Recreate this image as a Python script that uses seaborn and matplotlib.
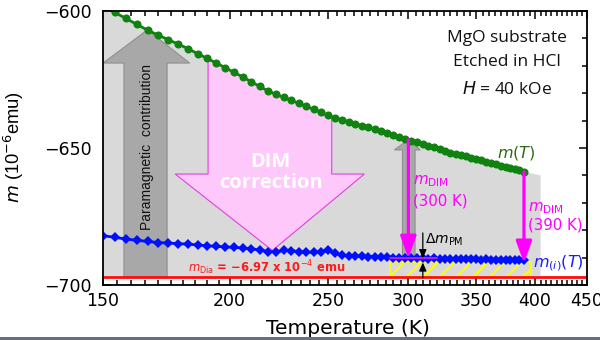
import numpy as np
import pandas as pd
import matplotlib
matplotlib.use("Agg")
import matplotlib.pyplot as plt
import seaborn as sns
from matplotlib.patches import Polygon, Rectangle
from matplotlib.ticker import FixedLocator, NullFormatter, FixedFormatter

# ---------------- data ----------------
temps = [150, 154, 158, 162, 166, 170, 174, 178, 182, 186, 190, 194, 198, 202, 206,
         210, 214, 218, 222, 226, 230, 234, 238, 242, 246, 250, 254, 258, 262, 266,
         270, 274, 278, 282, 286, 290, 294, 298, 302, 306, 310, 314, 318, 322, 326,
         330, 334, 338, 342, 346, 350, 354, 358, 362, 366, 370, 374, 378, 382, 386, 390]

m_total = [-598.3, -600.5, -602.7, -604.9, -607.0, -608.8, -610.5, -612.1, -613.8, -615.6,
           -617.3, -619.0, -620.7, -622.4, -624.1, -625.8, -627.5, -629.1, -630.4, -631.5,
           -632.6, -633.7, -634.8, -635.9, -637.0, -638.1, -639.0, -639.7, -640.4, -641.1,
           -641.8, -642.5, -643.2, -643.9, -644.6, -645.3, -646.0, -646.7, -647.3, -647.9,
           -648.6, -649.2, -649.8, -650.5, -651.1, -651.7, -652.2, -652.6, -653.1, -653.6,
           -654.0, -654.5, -655.0, -655.4, -655.9, -656.4, -656.8, -657.3, -657.8, -658.2, -658.7]

m_intrinsic = [-682.0, -682.6, -683.2, -683.7, -684.1, -684.5, -684.7, -684.9, -685.1, -685.4,
               -685.7, -685.9, -686.1, -686.3, -686.5, -686.8, -687.2, -687.8, -687.9, -687.4,
               -687.5, -687.8, -688.0, -688.1, -687.8, -687.4, -688.4, -689.1, -689.3, -689.4,
               -689.5, -689.6, -689.7, -689.8, -689.8, -690.0, -690.1, -690.2, -690.2, -690.3,
               -690.2, -690.4, -690.3, -690.4, -690.5, -690.4, -690.5, -690.6, -690.5, -690.6,
               -690.6, -690.7, -690.6, -690.7, -690.7, -690.8, -690.7, -690.8, -690.8, -690.9, -690.9]

m_dia = -697.0
x_major = [150, 200, 250, 300, 350, 400, 450]
y_major = [-700, -650, -600]
info_lines = ["MgO substrate", "Etched in HCl", "$H$ = 40 kOe"]

# ---------------- style ----------------
sns.set_theme(style="ticks")
plt.rcParams["font.family"] = ["DejaVu Sans"]
plt.rcParams["mathtext.fontset"] = "dejavusans"
plt.rcParams["hatch.linewidth"] = 1.4

fig = plt.figure(figsize=(6, 3.4), dpi=100)
fig.patch.set_facecolor("white")
ax = fig.add_axes([103 / 600, 1 - 285 / 340, 484 / 600, 274 / 340])
ax.set_facecolor("white")
ax.set_xscale("log")
ax.set_xlim(150, 450)
ax.set_ylim(-700, -600)

# grey area below m(T)
area_T = [150] + temps + [405, 405]
area_m = [m_dia] + m_total + [-660.0, m_dia]
bg = Polygon(list(zip(area_T, area_m)), closed=True, facecolor="#d9d9d9",
             edgecolor="none", zorder=1)
ax.add_patch(bg)
clip_poly = Polygon(list(zip(area_T, area_m)), closed=True, transform=ax.transData)

# paramagnetic contribution arrow (grey, up)
pm_arrow = Polygon([(157.3, m_dia), (157.3, -619.0), (150.0, -619.0), (165.9, -606.9),
                    (182.6, -619.0), (173.5, -619.0), (173.5, m_dia)], closed=True,
                   facecolor="#a8a8a8", edgecolor="#909090", lw=0.8, zorder=2)
ax.add_patch(pm_arrow)
ax.text(165.6, -649.5, "Paramagnetic  contribution", rotation=90, ha="center",
        va="center", fontsize=10, family="Liberation Sans", color="#111111", zorder=6)

# DIM correction arrow (pink, down)
dim_arrow = Polygon([(190.4, -590), (190.4, -659.5), (176.7, -659.5), (220.3, -687.4),
                     (271.5, -659.5), (252.1, -659.5), (252.1, -590)], closed=True,
                    facecolor="#ffc8fa", edgecolor="#e040e0", lw=0.8, zorder=2)
ax.add_patch(dim_arrow)
dim_arrow.set_clip_path(clip_poly)
ax.text(219.5, -659.0, "DIM\ncorrection", ha="center", va="center", fontsize=14.5,
        family="Open Sans", fontweight="bold", color="white", linespacing=1.1, zorder=6)

# small grey arrow at 300 K
g300 = Polygon([(296.0, -690.2), (296.0, -650.7), (290.6, -650.7), (300.0, -647.0),
                (308.2, -650.7), (304.6, -650.7), (304.6, -690.2)], closed=True,
               facecolor="#a8a8a8", edgecolor="#909090", lw=0.8, zorder=3)
ax.add_patch(g300)

# yellow hatched box
ybox = Polygon([(288, -691.6), (396, -691.6), (396, m_dia), (288, m_dia)], closed=True,
               facecolor="none", edgecolor="#ffff00", hatch="//", lw=1.2, zorder=3)
ax.add_patch(ybox)

# curves
df = pd.DataFrame({"T": temps, "total": m_total, "intr": m_intrinsic})
sns.lineplot(data=df, x="T", y="total", ax=ax, color="#0f820f", marker="o",
             markersize=5.8, markeredgewidth=0, linewidth=2.0, zorder=5)
sns.lineplot(data=df, x="T", y="intr", ax=ax, color="#0010ff", marker="D",
             markersize=4.7, markeredgewidth=0, linewidth=2.0, zorder=5)

ax.axhline(m_dia, color="#ff0d0d", lw=2.0, zorder=4)

# magenta level line and arrows
ax.plot([288, 320], [-690.2, -690.2], color="#d21ee6", lw=1.3, zorder=6)
arrow_kw = dict(arrowstyle="-|>,head_length=0.55,head_width=0.2", color="#ff00ff",
                lw=2.3, mutation_scale=24, shrinkA=0, shrinkB=0)
ax.annotate("", xy=(300, -690.2), xytext=(300, -647.0), arrowprops=arrow_kw, zorder=7)
ax.annotate("", xy=(390, -692.0), xytext=(390, -658.7), arrowprops=arrow_kw, zorder=7)

# delta m_PM arrows
bk = dict(arrowstyle="-|>,head_length=0.5,head_width=0.22", color="black", lw=0.9,
          mutation_scale=10, shrinkA=0, shrinkB=0)
ax.annotate("", xy=(310, -690.2), xytext=(310, -681.0), arrowprops=bk, zorder=7)
ax.annotate("", xy=(310, -691.8), xytext=(310, -697.4), arrowprops=bk, zorder=7)

# labels inside
ax.text(303, -662.2, r"$m_{\rm DIM}$", color="#ff00ff", fontsize=10.8, ha="left", va="center", zorder=8)
ax.text(303, -669.2, "(300 K)", color="#ff00ff", fontsize=10.8, ha="left", va="center", zorder=8)
ax.text(393.4, -671.8, r"$m_{\rm DIM}$", color="#ff00ff", fontsize=10.8, ha="left", va="center", zorder=8)
ax.text(393.4, -678.2, "(390 K)", color="#ff00ff", fontsize=10.8, ha="left", va="center", zorder=8)
ax.text(383.4, -651.8, r"$m(T)$", color="#2e6a14", fontsize=11.5, ha="center", va="center", zorder=8)
ax.text(397.7, -692.0, r"$m_{(i)}(T)$", color="#1a1aff", fontsize=11.5, ha="left", va="center", zorder=8)
ax.text(311.7, -683.6, r"$\Delta m_{\rm PM}$", color="black", fontsize=10, ha="left", va="center", zorder=8)
ax.text(182, -693.8, r"$m_{\rm Dia}$ = −6.97 x 10$^{-4}$ emu", color="#ff1a1a", fontsize=8.3,
        ha="left", va="center", fontweight="bold", zorder=8)

for txt, y in zip(info_lines, [-609.9, -618.6, -628.8]):
    ax.text(374.9, y, txt, ha="center", va="center", fontsize=12.5, family="Open Sans",
            color="#111111", zorder=8)

# axes styling
ax.xaxis.set_major_locator(FixedLocator(x_major))
ax.xaxis.set_major_formatter(FixedFormatter([str(v) for v in x_major]))
ax.xaxis.set_minor_locator(FixedLocator([v for v in range(155, 450, 5) if v % 50 != 0]))
ax.xaxis.set_minor_formatter(NullFormatter())
ax.yaxis.set_major_locator(FixedLocator(y_major))
ax.yaxis.set_minor_locator(FixedLocator([v for v in range(-700, -599, 10) if v % 50 != 0]))
ax.tick_params(which="both", direction="in", top=True, right=True, color="black", width=1.1)
ax.tick_params(which="major", length=6, labelsize=12.5, labelcolor="black")
ax.tick_params(which="minor", length=3.5)
ax.tick_params(axis="x", which="major", pad=5)
ax.tick_params(axis="y", which="major", pad=8)
for sp in ax.spines.values():
    sp.set_color("black")
    sp.set_linewidth(1.3)
    sp.set_zorder(9)

ax.set_xlabel("Temperature (K)", fontsize=14.5, color="black")
ax.xaxis.set_label_coords(0.506, -0.124)
ax.set_ylabel(r"$m$ (10$^{-6}$emu)", fontsize=13.2, family="Liberation Sans", color="black")
ax.yaxis.set_label_coords(-0.160, 0.504)

# bottom frame line
fig.add_artist(Rectangle((0, 0), 1, 3 / 340, transform=fig.transFigure,
                         facecolor="#627080", edgecolor="none"))

fig.savefig("out.png", dpi=100, facecolor="white")
